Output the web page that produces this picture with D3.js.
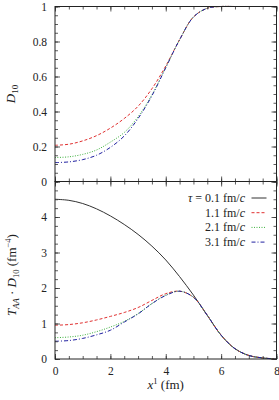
<!DOCTYPE html>
<html>
<head>
<meta charset="utf-8">
<script src="https://cdn.jsdelivr.net/npm/d3@7"></script>
<style>
body { margin: 0; background: white; }
text { font-family: "Liberation Serif", "DejaVu Serif", serif; fill: #222; }
</style>
</head>
<body>
<div id="chart"></div>
<script>
// x^1 sample points (fm)
var xs = [0, 0.5, 1, 1.5, 2, 2.5, 3, 3.5, 4, 4.5, 5, 5.5, 6, 6.5, 7, 7.5, 8];

// upper panel: D10
var d10_01 = [1, 1, 1, 1, 1, 1, 1, 1, 1, 1, 1, 1, 1, 1, 1, 1, 1];
var d10_11 = [0.207, 0.213, 0.232, 0.262, 0.305, 0.36, 0.43, 0.53, 0.66, 0.81, 0.94, 0.99, 1, 1, 1, 1, 1];
var d10_21 = [0.137, 0.141, 0.155, 0.18, 0.225, 0.28, 0.37, 0.495, 0.652, 0.81, 0.94, 0.99, 1, 1, 1, 1, 1];
var d10_31 = [0.108, 0.112, 0.125, 0.15, 0.195, 0.26, 0.36, 0.49, 0.65, 0.81, 0.94, 0.99, 1, 1, 1, 1, 1];

// lower panel: T_AA * D10 (fm^-4)
var td_01 = [4.5, 4.47, 4.38, 4.23, 4.03, 3.79, 3.51, 3.18, 2.79, 2.32, 1.8, 1.23, 0.67, 0.29, 0.1, 0.03, 0.0];
var td_11 = [0.95, 0.97, 1.02, 1.1, 1.2, 1.31, 1.45, 1.65, 1.84, 1.91, 1.74, 1.23, 0.67, 0.29, 0.1, 0.03, 0.0];
var td_21 = [0.6, 0.62, 0.67, 0.77, 0.9, 1.06, 1.28, 1.56, 1.8, 1.91, 1.74, 1.23, 0.67, 0.29, 0.1, 0.03, 0.0];
var td_31 = [0.5, 0.52, 0.58, 0.68, 0.81, 1.04, 1.27, 1.56, 1.79, 1.91, 1.74, 1.23, 0.67, 0.29, 0.1, 0.03, 0.0];

var legendLabels = ["0.1 fm/", "1.1 fm/", "2.1 fm/", "3.1 fm/"];
var xTicks = [0, 2, 4, 6, 8];
var topTicks = [0, 0.2, 0.4, 0.6, 0.8, 1];
var topTickLabels = ["0", "0.2", "0.4", "0.6", "0.8", "1"];
var botTicks = [0, 1, 2, 3, 4, 5];
var botTickLabels = ["0", "1", "2", "3", "4", ""];

var colors = ["#333333", "#e03030", "#3cb03c", "#2020a0"];
var dashes = [null, "3,2", "1,1.5", "4,2,1,2"];

width = 279;
height = 400;
left = 55;
right = 276.5;
topY = 6.5;
midY = 181.5;
botY = 359;

var svg = d3.select("#chart").append("svg")
    .attr("width", width)
    .attr("height", height);

var x = d3.scaleLinear().domain([0, 8]).range([left, right]);
var yTop = d3.scaleLinear().domain([0, 1]).range([midY, topY]);
var yBot = d3.scaleLinear().domain([0, 5]).range([botY, midY]);

function drawFrame(y, majors, labels, minors, showX) {
    var g = svg.append("g");

    // left
    g.append("g").attr("transform", "translate(" + left + ",0)")
        .call(d3.axisLeft(y).tickValues(minors).tickSize(-3).tickFormat(""));
    g.append("g").attr("transform", "translate(" + left + ",0)")
        .call(d3.axisLeft(y).tickValues(majors).tickSize(-5).tickPadding(8)
            .tickFormat(function(d, i) { return labels[i]; }));
    // right
    g.append("g").attr("transform", "translate(" + right + ",0)")
        .call(d3.axisRight(y).tickValues(minors).tickSize(-3).tickFormat(""));
    g.append("g").attr("transform", "translate(" + right + ",0)")
        .call(d3.axisRight(y).tickValues(majors).tickSize(-5).tickFormat(""));

    var y0 = y.range()[0], y1 = y.range()[1];
    var xMinor = d3.range(0, 8.01, 0.5);
    // top
    g.append("g").attr("transform", "translate(0," + y1 + ")")
        .call(d3.axisTop(x).tickValues(xMinor).tickSize(-3).tickFormat(""));
    g.append("g").attr("transform", "translate(0," + y1 + ")")
        .call(d3.axisTop(x).tickValues(xTicks).tickSize(-5).tickFormat(""));
    // bottom
    g.append("g").attr("transform", "translate(0," + y0 + ")")
        .call(d3.axisBottom(x).tickValues(xMinor).tickSize(-3).tickFormat(""));
    g.append("g").attr("transform", "translate(0," + y0 + ")")
        .call(d3.axisBottom(x).tickValues(xTicks).tickSize(-5).tickPadding(8)
            .tickFormat(showX ? d3.format("d") : ""));

    g.selectAll(".domain").remove();
    g.selectAll(".tick line").attr("stroke", "#333").attr("stroke-width", 0.8);
    g.selectAll(".tick text").style("font-size", "11.5px")
        .style("font-family", "Liberation Serif, serif").attr("fill", "#222");

    g.append("rect")
        .attr("x", left)
        .attr("y", y1)
        .attr("width", right - left)
        .attr("height", y0 - y1)
        .attr("fill", "none")
        .attr("stroke", "#222")
        .attr("stroke-width", 1);
}

function drawCurves(y, series) {
    var line = d3.line()
        .x(function(d, i) { return x(xs[i]); })
        .y(function(d) { return y(d); })
        .curve(d3.curveCatmullRom.alpha(0.5));
    series.forEach(function(s, i) {
        svg.append("path")
            .attr("d", line(s))
            .attr("fill", "none")
            .attr("stroke", colors[i])
            .attr("stroke-width", 1)
            .attr("stroke-dasharray", dashes[i]);
    });
}

drawCurves(yTop, [d10_01, d10_11, d10_21, d10_31]);
drawCurves(yBot, [td_01, td_11, td_21, td_31]);
drawFrame(yTop, topTicks, topTickLabels, d3.range(0, 1.001, 0.05), false);
drawFrame(yBot, botTicks, botTickLabels, d3.range(0, 5.001, 0.25), true);

// axis titles
var t1 = svg.append("text")
    .attr("transform", "translate(15," + (topY + midY) / 2 + ") rotate(-90)")
    .attr("text-anchor", "middle")
    .style("font-size", "13px");
t1.append("tspan").style("font-style", "italic").text("D");
t1.append("tspan").attr("dy", 3).style("font-size", "9px").text("10");

var t2 = svg.append("text")
    .attr("transform", "translate(16,275) rotate(-90)")
    .attr("text-anchor", "middle")
    .style("font-size", "13px");
t2.append("tspan").style("font-style", "italic").text("T");
t2.append("tspan").attr("dy", 3).style("font-size", "8.5px").style("font-style", "italic").text("AA");
t2.append("tspan").attr("dy", -3).text(" · ");
t2.append("tspan").style("font-style", "italic").text("D");
t2.append("tspan").attr("dy", 3).style("font-size", "8.5px").text("10");
t2.append("tspan").attr("dy", -3).text(" (fm");
t2.append("tspan").attr("dy", -5).style("font-size", "8.5px").text("−4");
t2.append("tspan").attr("dy", 5).text(")");

var t3 = svg.append("text")
    .attr("x", (left + right) / 2)
    .attr("y", 389)
    .attr("text-anchor", "middle")
    .style("font-size", "13px");
t3.append("tspan").style("font-style", "italic").text("x");
t3.append("tspan").attr("dy", -5).style("font-size", "8.5px").text("1");
t3.append("tspan").attr("dy", 5).text(" (fm)");

// legend
var legend = svg.append("g");
legendLabels.forEach(function(lab, i) {
    var ly = 198 + i * 14.7;
    var t = legend.append("text")
        .attr("x", 245)
        .attr("y", ly + 4)
        .attr("text-anchor", "end")
        .style("font-size", "12px");
    if (i == 0) {
        t.append("tspan").style("font-style", "italic").text("τ");
        t.append("tspan").text(" = ");
    }
    t.append("tspan").text(lab);
    t.append("tspan").style("font-style", "italic").text("c");
    legend.append("line")
        .attr("x1", 251.5).attr("x2", 266.5)
        .attr("y1", ly).attr("y2", ly)
        .attr("stroke", colors[i])
        .attr("stroke-width", 1)
        .attr("stroke-dasharray", dashes[i]);
});
</script>
</body>
</html>
